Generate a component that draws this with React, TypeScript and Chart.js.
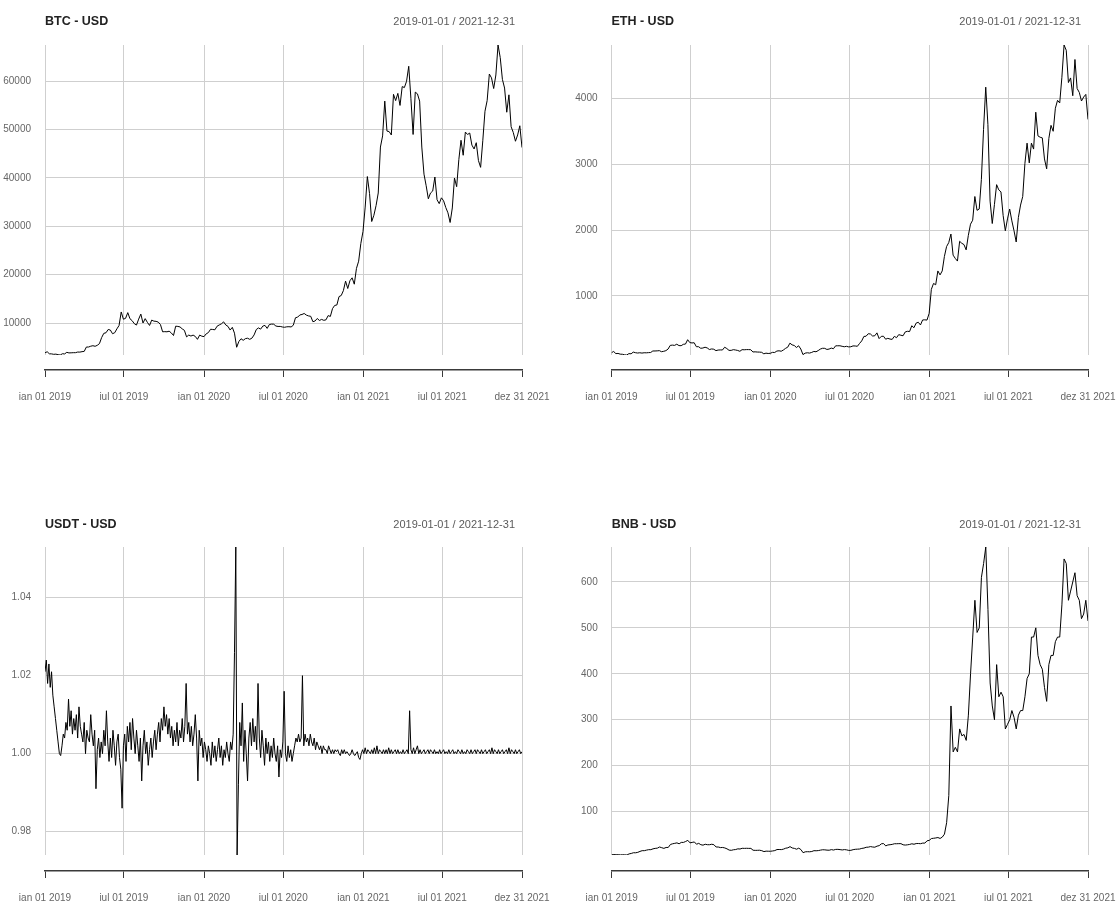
import React, { useEffect, useRef } from "react";
import { Chart, registerables } from "chart.js";

Chart.register(...registerables);

// ---------- data ----------
const DATE_RANGE = "2019-01-01 / 2021-12-31";
// day offsets from 2019-01-01
const X_TICK_DAYS = [0, 181, 365, 547, 731, 912, 1095];
const X_TICK_LABELS = ["jan 01 2019", "jul 01 2019", "jan 01 2020", "jul 01 2020", "jan 01 2021", "jul 01 2021", "dez 31 2021"];
const LAST_DAY = 1095;
const STEP_DAYS = 5; // BTC, ETH, BNB samples every 5 days
const USDT_STEP_DAYS = 3; // USDT samples every 3 days

const BTC_USD = [
  3843, 4076, 3650, 3630, 3540, 3580, 3460, 3400, 3660, 3620,
  3950, 3830, 3850, 3880, 3880, 4010, 4000, 4090, 4150, 5050,
  5050, 5220, 5320, 5200, 5400, 5750, 7000, 7880, 8000, 8670,
  8560, 7800, 8000, 8800, 9500, 12300, 10800, 10980, 12160, 10900,
  10500, 9880, 9590, 10820, 11860, 10020, 10920, 10150, 9510, 10620,
  10400, 10360, 10200, 9700, 8200, 8230, 8200, 8320, 7960, 7430,
  9360, 9310, 9200, 8800, 8500, 7150, 7520, 7320, 7510, 7240,
  6640, 7510, 7290, 7200, 7770, 8030, 8720, 8680, 8610, 9350,
  9610, 9850, 10250, 9610, 9320, 8560, 9120, 7910, 5000, 6190,
  6760, 6440, 6780, 6870, 6640, 6880, 7550, 8660, 9000, 8750,
  9380, 9520, 8900, 9700, 9790, 9770, 9390, 9300, 9310, 9190,
  9130, 9230, 9250, 9200, 9550, 11100, 11230, 11680, 11780, 11990,
  11650, 11480, 11400, 10280, 10440, 10950, 10540, 10760, 10570, 10670,
  11550, 11370, 12990, 13650, 13740, 15480, 15700, 16720, 18680, 17150,
  18760, 19360, 18040, 21310, 22800, 26440, 28950, 33990, 40300, 36800,
  31000, 32290, 34300, 36900, 46400, 48700, 55900, 49700, 49600, 48900,
  57300, 56000, 57500, 55000, 58900, 58700, 60000, 63100, 56400, 49000,
  57750, 57400, 55900, 46400, 40800, 38400, 35700, 36900, 37300, 40200,
  35500, 34700, 35900, 35300, 33900, 32800, 30800, 33800, 40000, 38200,
  43800, 47800, 44700, 49500, 49000, 49300, 46800, 46000, 47300, 43600,
  42200, 47700, 53800, 56000, 61500, 60700, 58500, 61300, 67500, 64900,
  60400, 58600, 53600, 57200, 50600, 49400, 47600, 48900, 50800, 46300,
];

const ETH_USD = [
  140, 157, 125, 128, 117, 115, 107, 104, 125, 122,
  148, 139, 134, 138, 133, 138, 137, 140, 142, 165,
  165, 167, 170, 154, 160, 170, 194, 250, 254, 250,
  268, 247, 245, 266, 270, 336, 292, 287, 290, 230,
  230, 206, 210, 222, 211, 187, 196, 192, 170, 179,
  181, 180, 222, 202, 174, 174, 185, 180, 173, 160,
  185, 183, 186, 186, 184, 150, 152, 149, 148, 145,
  122, 132, 127, 130, 144, 142, 164, 168, 161, 180,
  205, 223, 284, 258, 248, 218, 244, 195, 110, 132,
  138, 133, 143, 158, 153, 171, 194, 206, 205, 188,
  194, 209, 199, 243, 244, 244, 236, 229, 236, 227,
  229, 242, 241, 236, 279, 318, 386, 389, 427, 423,
  392, 396, 440, 353, 387, 389, 344, 357, 346, 341,
  387, 367, 413, 404, 396, 454, 464, 460, 548, 518,
  588, 601, 560, 636, 638, 634, 737, 1100, 1190, 1170,
  1380, 1320, 1380, 1600, 1750, 1810, 1940, 1620, 1570, 1530,
  1830, 1800, 1780, 1700, 1920, 2090, 2150, 2510, 2300, 2320,
  2770, 3530, 4170, 3600, 2440, 2100, 2390, 2690, 2610, 2580,
  2220, 1990, 2170, 2320, 2140, 1990, 1820, 2190, 2380, 2510,
  3010, 3320, 3020, 3320, 3230, 3790, 3430, 3410, 3400, 3080,
  2930, 3390, 3590, 3500, 3850, 3970, 3930, 4320, 4810, 4730,
  4240, 4310, 4040, 4590, 4150, 4090, 3960, 4020, 4060, 3680,
];

const USDT_USD = [
  1.021, 1.024, 1.018, 1.023, 1.017, 1.021, 1.015, 1.012, 1.009, 1.006,
  1.003, 1.000, 0.9995, 1.002, 1.005, 1.004, 1.008, 1.006, 1.014, 1.007,
  1.011, 1.005, 1.009, 1.006, 1.010, 1.004, 1.012, 1.007, 1.005, 1.003,
  1.008, 1.000, 1.006, 1.004, 1.003, 1.010, 1.005, 1.002, 1.006, 0.991,
  1.001, 1.004, 0.999, 1.003, 1.000, 1.006, 1.002, 1.011, 1.003, 0.998,
  1.004, 0.999, 1.006, 1.002, 0.997, 1.003, 1.005, 0.999, 0.996, 0.986,
  1.002, 1.005, 0.998, 1.007, 1.003, 1.008, 1.001, 1.009, 1.004, 1.000,
  1.006, 1.002, 0.998, 1.004, 0.993, 1.002, 1.006, 1.000, 1.003, 0.997,
  1.001, 1.004, 0.999, 1.003, 1.006, 1.001, 1.005, 1.008, 1.003, 1.009,
  1.006, 1.012, 1.007, 1.010, 1.005, 1.009, 1.004, 1.007, 1.002, 1.006,
  1.003, 1.008, 1.002, 1.006, 1.004, 1.009, 1.003, 1.007, 1.018, 1.005,
  1.008, 1.003, 1.007, 1.002, 1.005, 1.010, 1.004, 0.993, 1.006, 1.002,
  1.004, 0.999, 1.003, 1.001, 0.998, 1.002, 1.000, 0.997, 1.003, 0.999,
  1.002, 0.998, 1.001, 1.004, 0.999, 1.002, 0.997, 1.001, 0.999, 1.003,
  1.000, 0.998, 1.003, 1.001, 1.005, 1.026, 1.053, 0.974, 0.992, 1.008,
  1.002, 1.013, 0.998, 1.006, 1.000, 0.993, 1.004, 1.008, 1.002, 1.009,
  1.003, 1.007, 1.001, 1.018, 1.004, 0.999, 1.006, 1.002, 0.997, 1.004,
  1.000, 1.003, 0.998, 1.002, 0.999, 1.004, 1.000, 0.998, 1.002, 0.994,
  1.001, 0.999, 1.003, 1.016, 1.000, 0.998, 1.002, 0.999, 1.001, 0.998,
  1.000, 1.002, 1.004, 1.003, 1.005, 1.003, 1.004, 1.020, 1.002, 1.005,
  1.003, 1.004, 1.002, 1.005, 1.003, 1.002, 1.004, 1.001, 1.003, 1.002,
  1.001, 1.002, 1.000, 1.002, 1.001, 1.001, 1.000, 1.002, 1.001, 1.000,
  1.001, 1.000, 1.001, 1.0005, 1.001, 1.000, 0.9995, 1.001, 1.000, 1.001,
  1.000, 1.0005, 1.000, 0.9995, 1.000, 1.001, 1.000, 0.9995, 1.000, 1.0005,
  0.999, 0.9985, 1.000, 1.001, 1.000, 1.0015, 1.000, 1.001, 1.0005, 1.000,
  1.001, 1.000, 1.0015, 1.000, 1.002, 1.000, 1.001, 1.0005, 1.000, 1.001,
  1.000, 1.001, 1.000, 1.0015, 1.000, 1.001, 1.000, 1.0005, 1.001, 1.000,
  1.001, 1.000, 1.0005, 1.000, 1.001, 1.000, 1.0005, 1.001, 1.000, 1.011,
  1.001, 1.000, 1.0015, 1.000, 1.001, 1.002, 1.000, 1.001, 1.000, 1.0005,
  1.001, 1.000, 1.0005, 1.001, 1.000, 1.001, 1.0005, 1.000, 1.001, 1.000,
  1.0005, 1.000, 1.001, 1.000, 1.0005, 1.001, 1.000, 1.0005, 1.000, 1.001,
  1.000, 1.0005, 1.001, 1.000, 1.0005, 1.000, 1.001, 1.0005, 1.000, 1.001,
  1.000, 1.0005, 1.000, 1.001, 1.0005, 1.000, 1.001, 1.000, 1.0005, 1.001,
  1.000, 1.001, 1.0005, 1.000, 1.001, 1.000, 1.0005, 1.001, 1.000, 1.0005,
  1.001, 1.000, 1.0015, 1.000, 1.001, 1.0005, 1.000, 1.001, 1.000, 1.0005,
  1.001, 1.000, 1.0005, 1.001, 1.000, 1.0015, 1.000, 1.001, 1.0005, 1.000,
  1.001, 1.000, 1.0005, 1.001, 1.000, 1.0005,
];

const BNB_USD = [
  6.1, 6.6, 6.1, 6.3, 5.8, 6.2, 6.0, 5.6, 8.0, 9.0,
  10.5, 10.4, 11.4, 13.4, 15.0, 15.0, 16.2, 17.2, 17.2, 19.0,
  20.0, 20.5, 23.0, 21.5, 20.0, 22.0, 22.0, 28.5, 30.0, 31.0,
  32.0, 30.0, 33.0, 33.0, 35.0, 37.5, 32.0, 33.0, 34.0, 29.0,
  31.0, 28.0, 27.0, 29.0, 28.0, 28.0, 29.0, 28.0, 23.0, 23.0,
  21.7, 22.0, 21.0, 19.0, 16.3, 15.8, 17.0, 17.5, 19.0, 18.6,
  20.2, 20.0, 20.2, 20.0, 20.0, 16.0, 15.7, 15.8, 16.0, 15.0,
  13.0, 14.0, 13.8, 13.7, 14.4, 15.2, 17.5, 17.6, 17.3, 18.4,
  20.4, 21.2, 23.8, 20.9, 20.0, 18.2, 20.5, 17.4, 10.6, 12.5,
  12.8, 12.6, 13.2, 15.0, 14.8, 15.2, 16.2, 17.0, 16.8, 16.2,
  16.0, 17.3, 16.4, 17.8, 17.9, 17.3, 16.6, 17.4, 16.8, 15.6,
  15.8, 17.2, 18.0, 18.3, 18.6, 20.0, 20.7, 22.4, 22.7, 23.9,
  23.0, 22.6, 24.9, 26.0, 30.0, 30.5, 25.4, 27.5, 28.0, 28.7,
  30.1, 30.1, 30.3, 30.3, 27.8, 27.2, 27.8, 28.6, 30.0, 29.0,
  30.5, 30.6, 30.2, 31.5, 31.5, 36.5, 37.4, 41.4, 42.0, 42.7,
  43.6, 41.6, 44.6, 51.0, 76.0, 135, 330, 230, 240, 230,
  280, 265, 268, 255, 310, 400, 480, 560, 490, 500,
  610, 640, 676, 540, 380, 330, 300, 420, 350, 360,
  350, 280, 290, 300, 320, 305, 280, 310, 320, 320,
  350, 390, 400, 480, 480, 500, 440, 420, 410, 370,
  340, 420, 440, 440, 470, 480, 480, 550, 650, 640,
  560, 580, 600, 620, 570, 560, 520, 530, 560, 515,
];

const BTC_Y_TICKS = [10000, 20000, 30000, 40000, 50000, 60000];
const BTC_Y_LABELS = ["10000", "20000", "30000", "40000", "50000", "60000"];
const ETH_Y_TICKS = [1000, 2000, 3000, 4000];
const ETH_Y_LABELS = ["1000", "2000", "3000", "4000"];
const USDT_Y_TICKS = [0.98, 1.0, 1.02, 1.04];
const USDT_Y_LABELS = ["0.98", "1.00", "1.02", "1.04"];
const BNB_Y_TICKS = [100, 200, 300, 400, 500, 600];
const BNB_Y_LABELS = ["100", "200", "300", "400", "500", "600"];

// ---------- styling ----------
const FONT = '"Liberation Sans", Arial, Helvetica, sans-serif';
const GRID = "#cfcfcf";
const AXIS = "#3a3a3a";
const TICK = "#666666";

const dateRangePlugin = {
  id: "dateRange",
  afterDraw(chart: any, _args: any, opts: any) {
    const { ctx, chartArea } = chart;
    ctx.save();
    ctx.font = `11px ${FONT}`;
    ctx.fillStyle = "#5a5a5a";
    ctx.textAlign = "right";
    ctx.textBaseline = "middle";
    ctx.fillText(opts.text, chartArea.right - 7, opts.centerY);
    ctx.restore();
  },
};

function buildConfig(spec: any, frame: any) {
  const points = spec.values.map((v: number, i: number) => ({ x: i * spec.step, y: v }));
  const yMin = Math.min(...spec.values);
  const yMax = Math.max(...spec.values);
  const setXTicks = (s: any) => {
    s.ticks = X_TICK_DAYS.map((v) => ({ value: v }));
  };
  return {
    type: "line",
    data: {
      datasets: [
        {
          data: points,
          borderColor: "#000000",
          borderWidth: 1,
          pointRadius: 0,
          tension: 0,
          fill: false,
        },
      ],
    },
    options: {
      responsive: false,
      animation: false,
      events: [],
      layout: { padding: { left: 0, right: frame.padRight, top: 0, bottom: frame.padBottom } },
      plugins: {
        legend: { display: false },
        tooltip: { enabled: false },
        title: {
          display: true,
          text: spec.title,
          align: "start",
          fullSize: false,
          color: "#222222",
          font: { family: FONT, size: 12.5, weight: "bold", lineHeight: 1.2 },
          padding: { top: frame.titleTop, bottom: frame.titleBottom },
        },
        dateRange: { text: DATE_RANGE, centerY: frame.titleTop + 7.5 },
      },
      scales: {
        x: {
          type: "linear",
          position: "bottom",
          weight: 0,
          min: 0,
          max: LAST_DAY,
          afterBuildTicks: setXTicks,
          afterFit: (s: any) => {
            s.height = frame.axisGap;
            s.paddingLeft = 0;
            s.paddingRight = 0;
          },
          grid: { color: GRID, lineWidth: 1, drawTicks: false },
          border: { display: false },
          ticks: { display: false },
        },
        x2: {
          type: "linear",
          position: "bottom",
          weight: 1,
          min: 0,
          max: LAST_DAY,
          afterBuildTicks: setXTicks,
          afterFit: (s: any) => {
            s.height = 30;
            s.paddingLeft = 0;
            s.paddingRight = 0;
          },
          grid: { drawOnChartArea: false, drawTicks: true, tickLength: 7, color: AXIS, lineWidth: 1 },
          border: { display: true, color: AXIS, width: 1.5 },
          ticks: {
            padding: 14,
            maxRotation: 0,
            minRotation: 0,
            autoSkip: false,
            color: TICK,
            font: { family: FONT, size: 10 },
            callback: (_v: any, i: number) => X_TICK_LABELS[i],
          },
        },
        y: {
          type: "linear",
          position: "left",
          min: yMin,
          max: yMax,
          afterBuildTicks: (s: any) => {
            s.ticks = spec.yTicks.map((v: number) => ({ value: v }));
          },
          afterFit: (s: any) => {
            s.width = frame.axisWidth;
          },
          grid: { color: GRID, lineWidth: 1, drawTicks: false },
          border: { display: false },
          ticks: {
            padding: 14,
            color: TICK,
            font: { family: FONT, size: 10 },
            callback: (_v: any, i: number) => spec.yLabels[i],
          },
        },
      },
    },
    plugins: [dateRangePlugin],
  };
}

const PANELS = [
  {
    spec: { title: "BTC - USD", values: BTC_USD, step: STEP_DAYS, yTicks: BTC_Y_TICKS, yLabels: BTC_Y_LABELS },
    frame: { left: 0, top: 0, width: 560, height: 450, axisWidth: 45, padRight: 38, padBottom: 50, axisGap: 15, titleTop: 14, titleBottom: 16 },
  },
  {
    spec: { title: "ETH - USD", values: ETH_USD, step: STEP_DAYS, yTicks: ETH_Y_TICKS, yLabels: ETH_Y_LABELS },
    frame: { left: 560, top: 0, width: 560, height: 450, axisWidth: 51.5, padRight: 32, padBottom: 50, axisGap: 15, titleTop: 14, titleBottom: 16 },
  },
  {
    spec: { title: "USDT - USD", values: USDT_USD, step: USDT_STEP_DAYS, yTicks: USDT_Y_TICKS, yLabels: USDT_Y_LABELS },
    frame: { left: 0, top: 450, width: 560, height: 454, axisWidth: 45, padRight: 38, padBottom: 3, axisGap: 16, titleTop: 67, titleBottom: 15 },
  },
  {
    spec: { title: "BNB - USD", values: BNB_USD, step: STEP_DAYS, yTicks: BNB_Y_TICKS, yLabels: BNB_Y_LABELS },
    frame: { left: 560, top: 450, width: 560, height: 454, axisWidth: 51.7, padRight: 32, padBottom: 3, axisGap: 16, titleTop: 67, titleBottom: 15 },
  },
];

function Panel({ spec, frame }: any) {
  const ref = useRef<HTMLCanvasElement | null>(null);
  useEffect(() => {
    if (!ref.current) return;
    const chart = new Chart(ref.current, buildConfig(spec, frame) as any);
    return () => chart.destroy();
  }, []);
  return (
    <canvas
      ref={ref}
      width={frame.width}
      height={frame.height}
      style={{ position: "absolute", left: frame.left, top: frame.top, width: frame.width, height: frame.height }}
    />
  );
}

export default function App() {
  return (
    <div style={{ position: "absolute", left: 0, top: 0, width: 1120, height: 904, background: "#ffffff", overflow: "hidden" }}>
      {PANELS.map((p, i) => (
        <Panel key={i} spec={p.spec} frame={p.frame} />
      ))}
    </div>
  );
}
